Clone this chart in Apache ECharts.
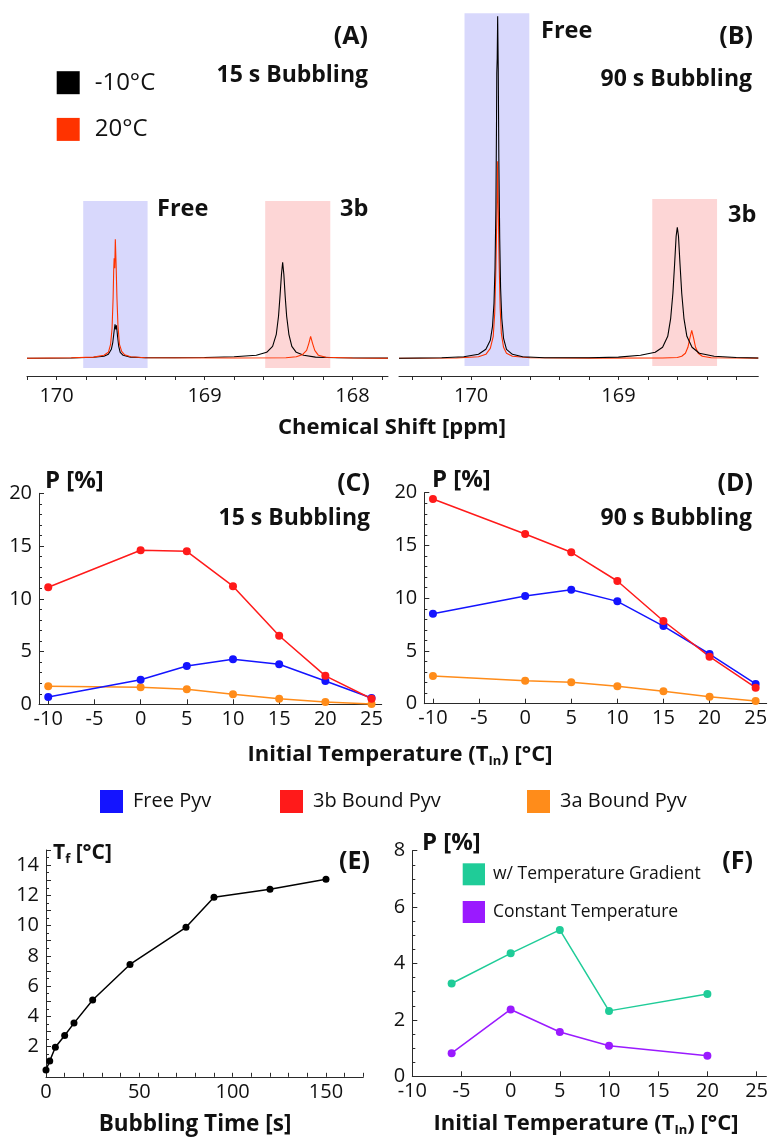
<!DOCTYPE html>
<html>
<head>
<meta charset="utf-8">
<script src="https://cdn.jsdelivr.net/npm/echarts@6/dist/echarts.min.js"></script>
<style>
  html, body { margin: 0; padding: 0; background: #fff; }
  #main { width: 771px; height: 1138px; }
</style>
</head>
<body>
<div id="main"></div>
<script>
var specA_m10 = [[170.2,0],[169.9,0.3],[169.75,1],[169.68,2],[169.65,4],[169.63,9],[169.62,16],[169.612,26],[169.605,34],[169.6,29],[169.595,33],[169.588,22],[169.58,12],[169.57,6],[169.55,3],[169.5,1.2],[169.4,0.6],[169.2,0.5],[169.0,0.8],[168.8,1.5],[168.65,3],[168.58,6],[168.54,12],[168.515,24],[168.5,42],[168.49,62],[168.48,84],[168.472,96],[168.464,84],[168.455,62],[168.445,42],[168.43,24],[168.41,12],[168.38,6],[168.33,3],[168.25,1.2],[168.1,0.5],[167.76,0.2]];
var specA_20 = [[170.2,0],[169.9,0.5],[169.75,1.2],[169.68,3],[169.65,6],[169.635,14],[169.625,30],[169.618,60],[169.614,88],[169.611,100],[169.607,90],[169.603,119],[169.598,95],[169.592,60],[169.585,32],[169.575,14],[169.56,7],[169.54,3.5],[169.5,1.5],[169.4,0.6],[168.8,0.3],[168.45,0.6],[168.38,1.5],[168.34,3.5],[168.31,8],[168.295,15],[168.283,22],[168.27,15],[168.255,8],[168.23,3],[168.18,1],[168.0,0.3],[167.76,0]];
var specB_m10 = [[170.49,0],[170.2,0.5],[170.05,1.5],[169.95,4],[169.9,9],[169.87,18],[169.855,32],[169.845,55],[169.838,90],[169.832,150],[169.828,230],[169.826,285],[169.823,300],[169.82,342],[169.816,290],[169.812,200],[169.806,120],[169.8,70],[169.792,40],[169.78,20],[169.76,9],[169.72,4],[169.65,1.5],[169.5,0.6],[169.2,0.6],[169.0,1.2],[168.85,3],[168.75,6],[168.7,11],[168.665,22],[168.645,40],[168.63,65],[168.618,95],[168.608,122],[168.6,131],[168.592,122],[168.582,95],[168.57,65],[168.555,40],[168.535,22],[168.5,11],[168.45,5],[168.35,2],[168.2,0.8],[168.05,0.3]];
var specB_20 = [[170.49,0],[170.1,0.3],[169.95,1.5],[169.9,4],[169.87,10],[169.85,22],[169.84,45],[169.832,90],[169.826,140],[169.823,165],[169.82,197],[169.816,150],[169.81,95],[169.803,50],[169.795,25],[169.78,11],[169.76,5],[169.72,2],[169.6,0.5],[169.2,0.2],[168.7,0.3],[168.6,0.8],[168.57,2],[168.545,5],[168.528,11],[168.515,20],[168.502,28],[168.489,20],[168.476,11],[168.458,5],[168.43,2],[168.37,0.6],[168.05,0.2]];

// shaded integration windows [ppm from, ppm to, intensity bottom, intensity top]
var windowA_free = [169.82, 169.385, -9.7, 157.3];
var windowA_3b = [168.59, 168.15, -9.7, 157.3];
var windowB_free = [170.045, 169.605, -7.7, 345];
var windowB_3b = [168.77, 168.33, -7.7, 159.3];

var ticksA = [170.2,170.0,169.8,169.6,169.4,169.2,169.0,168.8,168.6,168.4,168.2,168.0,167.8];
var labelsA = [170,169,168];
var ticksB = [170.4,170.2,170.0,169.8,169.6,169.4,169.2,169.0,168.8,168.6,168.4,168.2];
var labelsB = [170,169];

// panels C and D
var tempsCD = [-10, 0, 5, 10, 15, 20, 25];
var freeC = [0.7, 2.33, 3.63, 4.26, 3.79, 2.21, 0.6];
var bound3bC = [11.1, 14.6, 14.5, 11.2, 6.5, 2.7, 0.53];
var bound3aC = [1.7, 1.61, 1.42, 0.95, 0.53, 0.22, 0.02];
var freeD = [8.53, 10.21, 10.81, 9.7, 7.36, 4.71, 1.87];
var bound3bD = [19.4, 16.08, 14.35, 11.63, 7.84, 4.46, 1.52];
var bound3aD = [2.63, 2.18, 2.03, 1.65, 1.17, 0.66, 0.25];
var labelsTemp = [-10, -5, 0, 5, 10, 15, 20, 25];

// panel E
var bubbleTime = [0, 2, 5, 10, 15, 25, 45, 75, 90, 120, 150];
var finalTemp = [0.45, 1.05, 1.96, 2.73, 3.55, 5.08, 7.43, 9.89, 11.88, 12.41, 13.06];
var labelsTime = [0, 50, 100, 150];
var ticksTime = [0,10,20,30,40,50,60,70,80,90,100,110,120,130,140,150,160,170];
var labelsTf = [2, 4, 6, 8, 10, 12, 14];

// panel F
var tempsF = [-6, 0, 5, 10, 20];
var gradientF = [3.29, 4.36, 5.19, 2.32, 2.92];
var constantF = [0.82, 2.37, 1.57, 1.08, 0.73];

var FONT = "'Open Sans', sans-serif";
var INK = "#111";
var AX = "#2a2a2a";

function pairs(xs, ys) {
  return xs.map(function(x, i) { return [x, ys[i]]; });
}

function xAx(grid, min, max, opt) {
  opt = opt || {};
  return {
    type: "value", gridIndex: grid, min: min, max: max, inverse: !!opt.inverse,
    splitLine: { show: false },
    axisLine: { onZero: false, lineStyle: { color: AX, width: 1 } },
    axisTick: { inside: opt.inside !== false, length: opt.tickLen || 4, customValues: opt.ticks, lineStyle: { color: AX } },
    axisLabel: { customValues: opt.labels, margin: opt.margin || 5, fontSize: 20, color: INK, fontFamily: FONT }
  };
}

function yAx(grid, min, max, opt) {
  opt = opt || {};
  return {
    type: "value", gridIndex: grid, min: min, max: max, show: opt.show !== false,
    interval: opt.interval,
    splitLine: { show: false },
    axisLine: { onZero: false, lineStyle: { color: AX, width: 1 } },
    axisTick: { inside: true, length: 5, customValues: opt.ticks, lineStyle: { color: AX } },
    minorTick: { show: !!opt.minor, splitNumber: opt.minor || 5, length: 3, lineStyle: { color: AX } },
    axisLabel: { customValues: opt.labels, margin: 7, fontSize: 20, color: INK, fontFamily: FONT }
  };
}

function spectrum(name, data, idx, color, z) {
  return { name: name, type: "line", xAxisIndex: idx, yAxisIndex: idx, data: data, showSymbol: false,
    symbol: "none", z: z, silent: true, color: color, lineStyle: { color: color, width: 1.1 } };
}

function shade(idx, wins, colors) {
  return { name: "shade" + idx, type: "line", xAxisIndex: idx, yAxisIndex: idx, data: [], z: 1, silent: true,
    markArea: { silent: true, data: wins.map(function(w, i) {
      return [{ xAxis: w[0], yAxis: w[3], itemStyle: { color: colors[i], opacity: 1 } }, { xAxis: w[1], yAxis: w[2] }];
    }) } };
}

function pts(name, idx, xs, ys, color, size) {
  return { name: name, type: "line", xAxisIndex: idx, yAxisIndex: idx, data: pairs(xs, ys), symbol: "circle",
    symbolSize: size || 8, color: color, itemStyle: { color: color }, lineStyle: { color: color, width: 1.5 }, z: 3 };
}

function txt(x, y, s, size, align, bold) {
  return { type: "text", x: x, y: y, silent: true, style: { text: s, fill: INK, align: align || "left", verticalAlign: "middle",
    font: (bold === false ? "" : "bold ") + size + "px " + FONT } };
}

function richTxt(x, y, parts, size, align) {
  return { type: "text", x: x, y: y, silent: true, style: {
    text: parts, align: align || "center", verticalAlign: "middle", fill: INK,
    rich: {
      b: { fontFamily: FONT, fontWeight: "bold", fontSize: size, fill: INK },
      s: { fontFamily: FONT, fontWeight: "bold", fontSize: Math.round(size * 0.6), fill: INK, padding: [Math.round(size * 0.55), 0, 0, 0] }
    } } };
}

var chart = echarts.init(document.getElementById("main"));
var BLUE = "#1414ff", RED = "#ff1a1a", ORANGE = "#ff8c1a", TEAL = "#1fcc98", PURPLE = "#9a1aff";
var legText = function(size, pad) { return { fontSize: size, fontFamily: FONT, color: INK, padding: [0, 0, 0, pad] }; };

var option = {
  animation: false,
  backgroundColor: "#fff",
  grid: [
    { left: 27, top: 0, width: 361, height: 376 },
    { left: 399, top: 0, width: 359.3, height: 376 },
    { left: 39, top: 493.3, width: 342.7, height: 211 },
    { left: 424.3, top: 492.7, width: 342.4, height: 211 },
    { left: 46, top: 850, width: 317.3, height: 226.8 },
    { left: 412.3, top: 850.7, width: 354.4, height: 225.6 }
  ],
  xAxis: [
    xAx(0, 167.76, 170.2, { inverse: true, inside: false, ticks: ticksA, labels: labelsA, margin: 10 }),
    xAx(1, 168.05, 170.49, { inverse: true, inside: false, ticks: ticksB, labels: labelsB, margin: 10 }),
    xAx(2, -11, 26.1, { ticks: labelsTemp, labels: labelsTemp, tickLen: 5 }),
    xAx(3, -10.94, 26.2, { ticks: labelsTemp, labels: labelsTemp, tickLen: 5 }),
    xAx(4, 0, 170, { ticks: ticksTime, labels: labelsTime }),
    xAx(5, -10, 26, { ticks: labelsTemp, labels: labelsTemp, tickLen: 5 })
  ],
  yAxis: [
    yAx(0, -17.7, 358.3, { show: false }),
    yAx(1, -17.7, 358.3, { show: false }),
    yAx(2, 0, 20, { interval: 5, minor: 5 }),
    yAx(3, 0, 20, { interval: 5, minor: 5 }),
    yAx(4, 0, 15, { interval: 1, labels: labelsTf, minor: 2 }),
    yAx(5, 0, 8, { interval: 2, minor: 4 })
  ],
  legend: [
    { left: 56.7, top: 70.7, orient: "vertical", padding: 0, itemWidth: 23, itemHeight: 23, itemGap: 22.7, icon: "rect",
      selectedMode: false, data: ["-10°C", "20°C"], textStyle: legText(24, 10) },
    { left: 100, top: 790, padding: 0, itemWidth: 23, itemHeight: 23, icon: "rect", selectedMode: false,
      data: ["Free Pyv"], textStyle: legText(20, 5) },
    { left: 280, top: 790, padding: 0, itemWidth: 23, itemHeight: 23, icon: "rect", selectedMode: false,
      data: ["3b Bound Pyv"], textStyle: legText(20, 5) },
    { left: 527, top: 790, padding: 0, itemWidth: 23, itemHeight: 23, icon: "rect", selectedMode: false,
      data: ["3a Bound Pyv"], textStyle: legText(20, 5) },
    { left: 462.7, top: 863.3, orient: "vertical", padding: 0, itemWidth: 22.3, itemHeight: 22, itemGap: 15.7, icon: "rect",
      selectedMode: false, data: ["w/ Temperature Gradient", "Constant Temperature"], textStyle: legText(17.5, 3) }
  ],
  series: [
    shade(0, [windowA_free, windowA_3b], ["#d8d8fc", "#fdd6d6"]),
    shade(1, [windowB_free, windowB_3b], ["#d8d8fc", "#fdd6d6"]),
    spectrum("-10°C", specA_m10, 0, "#000", 4),
    spectrum("20°C", specA_20, 0, "#ff3300", 5),
    spectrum("20°C", specB_20, 1, "#ff3300", 4),
    spectrum("-10°C", specB_m10, 1, "#000", 5),

    pts("3a Bound Pyv", 2, tempsCD, bound3aC, ORANGE),
    pts("Free Pyv", 2, tempsCD, freeC, BLUE),
    pts("3b Bound Pyv", 2, tempsCD, bound3bC, RED),
    pts("3a Bound Pyv", 3, tempsCD, bound3aD, ORANGE),
    pts("Free Pyv", 3, tempsCD, freeD, BLUE),
    pts("3b Bound Pyv", 3, tempsCD, bound3bD, RED),

    pts("Tf", 4, bubbleTime, finalTemp, "#000", 7),

    pts("w/ Temperature Gradient", 5, tempsF, gradientF, TEAL),
    pts("Constant Temperature", 5, tempsF, constantF, PURPLE)
  ],
  graphic: [
    txt(368, 37, "(A)", 25, "right"),
    txt(368, 75, "15 s Bubbling", 23, "right"),
    txt(157, 209, "Free", 23.5),
    txt(340, 209, "3b", 23.5),
    txt(753, 37, "(B)", 25, "right"),
    txt(752, 79, "90 s Bubbling", 23, "right"),
    txt(541, 31, "Free", 23.5),
    txt(728, 215, "3b", 23.5),
    txt(392, 428, "Chemical Shift [ppm]", 22, "center"),

    txt(45, 481, "P [%]", 24),
    txt(370, 484, "(C)", 25, "right"),
    txt(370, 518, "15 s Bubbling", 23, "right"),
    txt(432, 480, "P [%]", 24),
    txt(753, 484, "(D)", 25, "right"),
    txt(752, 518, "90 s Bubbling", 23, "right"),
    richTxt(400, 755, "{b|Initial Temperature (T}{s|In}{b|) [°C]}", 22),

    richTxt(53, 853, "{b|T}{s|f}{b| [°C]}", 21, "left"),
    txt(370, 862, "(E)", 25, "right"),
    txt(195, 1125, "Bubbling Time [s]", 22.5, "center"),

    txt(422, 843, "P [%]", 24),
    txt(753, 862, "(F)", 25, "right"),
    richTxt(586, 1124, "{b|Initial Temperature (T}{s|In}{b|) [°C]}", 22)
  ]
};

chart.setOption(option);
</script>
</body>
</html>
